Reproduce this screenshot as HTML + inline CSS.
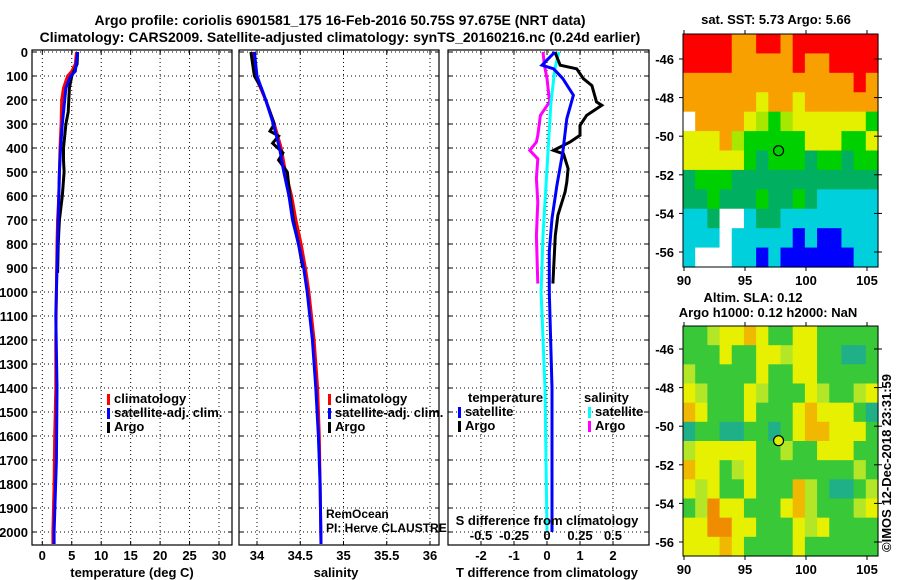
<!DOCTYPE html>
<html><head><meta charset="utf-8"><style>
body{margin:0;background:#fff}
svg{display:block;font-family:"Liberation Sans",sans-serif}
.b{font-weight:bold;font-size:13px}
</style></head><body>
<svg id="c" width="900" height="580" viewBox="0 0 900 580"></svg>
<script>
// ---- data ----
const tDepth = [0,50,80,100,150,200,300,400,500,600,700,800,1000,1200,1400,1600,1800,2000,2050];
const tClim  = [5.8,5.6,5.0,4.3,3.6,3.3,3.2,3.0,2.9,2.8,2.6,2.5,2.4,2.3,2.3,2.1,2.0,1.8,1.8];
const tSatDepth = [0,80,100,150,200,300,400,500,700,900,1100,1400,1700,2000,2050];
const tSat = [6.0,5.6,4.8,4.0,3.8,3.4,3.1,2.9,2.7,2.5,2.3,2.5,2.4,2.0,2.0];
const argoDepth = [0,50,100,150,200,250,300,350,400,450,500,600,700,800,920];
const tArgo = [6.0,5.9,5.0,4.6,4.5,4.4,4.0,3.8,3.6,3.6,3.7,3.4,2.9,2.7,2.6];
const sDepth = [0,100,200,300,400,500,600,700,800,900,1000,1200,1400,1600,1800,2050];
const sClim = [33.95,33.98,34.1,34.2,34.28,34.33,34.4,34.45,34.51,34.56,34.6,34.66,34.7,34.72,34.73,34.74];
const sSat  = [33.97,34.0,34.1,34.19,34.26,34.31,34.37,34.41,34.48,34.54,34.58,34.64,34.68,34.71,34.73,34.74];
const sArgoDepth = [0,100,150,200,250,300,330,350,380,420,450,500,600,700,800,900];
const sArgo = [33.93,33.97,34.05,34.1,34.15,34.2,34.15,34.25,34.18,34.3,34.25,34.35,34.38,34.42,34.48,34.53];
const dTArgoDepth = [0,55,70,111,140,208,222,264,306,347,375,410,424,486,542,583,680,764,965];
const dTArgo = [0.24,0.4,0.9,1.1,1.36,1.5,1.66,1.2,1.0,1.0,0.7,0.2,0.5,0.64,0.6,0.55,0.33,0.25,0.18];
const dTSatDepth = [0,55,70,111,180,278,417,556,694,830,1000,1400,2000];
const dTSat = [0.24,-0.15,0.2,0.48,0.8,0.6,0.48,0.3,0.15,0.07,0.07,0.15,0.15];
const dSSatDepth = [0,70,208,486,764,1000,1400,2000];
const dSSat = [0.09,0.06,0.03,0.0,-0.03,-0.045,-0.015,0.0];
const dSArgoDepth = [0,55,111,208,264,347,375,410,445,527,625,764,965];
const dSArgo = [-0.03,-0.02,0.0,0.02,-0.05,-0.07,-0.08,-0.13,-0.07,-0.08,-0.07,-0.08,-0.07];
const depthTicks = [0,100,200,300,400,500,600,700,800,900,1000,1100,1200,1300,1400,1500,1600,1700,1800,1900,2000];
const tTicks = [0,5,10,15,20,25,30];
const sTicks = [34,34.5,35,35.5,36];
const dTTicks = [-2,-1,0,1,2];
const dSTicks = ["-0.5","-0.25","0","0.25","0.5"];
const latTicks = [-46,-48,-50,-52,-54,-56];
const lonTicks = [90,95,100,105];
const sstGrid = [
"RRRROORRORRRRRRR","RRRROOOOOROORRRR","OOOOOOOOOOOOOORO","OOOOOOYOOYOOOOOO",
"WOOOOYLGLYYYYYYG","YYYOLGGGGGYYYGGY","YYYYYGDGGGDGGDGG","DGGGDDDDDDDDDDDD",
"DDGDDDGDDGDCCCCC","CCDWWCDDCCCCCCCC","CCCWCCCCCBCBBCCC","CWWWCCBCBBBBBBCC"];
const slaGrid = [
"GGLYYOYGGYYGGGGG","GGGYGGYYLYYGGTTG","LGGGGGYGGYYGGGGG","YLGGGYLGGGYLGGLY",
"OYGGGYGGGYOYYYGT","TGGTTGGTGYOOYYYG","LYYYYYGGLGGYYYGG","OYYGLYGGGGGGGGLG",
"YLYGGYGGGOLGTTGL","GLAYYGGGYOLGGGLY","YYAAYYGGGYLYGGGG","YYYOYGGGGYGGGGGG"];
const sstColors = {R:"#ff0000",O:"#f7a000",Y:"#e4f000",L:"#a8e800",G:"#00d000",D:"#00b060",C:"#00cfdc",B:"#0000ff",W:"#ffffff"};
const slaColors = {Y:"#e6f000",L:"#b4e628",G:"#38c838",T:"#20b088",O:"#f0b800",A:"#f08c00"};
const argoLon = 97.75, argoLat = -50.75;

// ---- helpers ----
const svg = document.getElementById('c');
const NS = "http://www.w3.org/2000/svg";
function el(tag, attrs, parent){const e=document.createElementNS(NS,tag);for(const k in attrs)e.setAttribute(k,attrs[k]);(parent||svg).appendChild(e);return e;}
function txt(x,y,s,anchor,cls,parent){const t=el('text',{x:x,y:y,'text-anchor':anchor||'middle',class:cls||'b'},parent);t.textContent=s;return t;}
const Y = d => 52 + 0.24*d;
const TOP=50, BOT=545;
const xT = v => 42.3 + 5.89*v;
const xS = v => 257 + 86.5*(v-34);
const xDT = v => 547 + 33*v;
const xDS = v => 547 + 132*v;

function panel(name,x0,x1,xticksPx,labels,showY){
  const g=el('g',{});
  
  
  depthTicks.forEach(d=>{
    el('line',{x1:x0,x2:x1,y1:Y(d),y2:Y(d),stroke:'#000','stroke-dasharray':'1,3','stroke-width':1},g);
    el('line',{x1:x0,x2:x0+4,y1:Y(d),y2:Y(d),stroke:'#000'},g);
    el('line',{x1:x1-4,x2:x1,y1:Y(d),y2:Y(d),stroke:'#000'},g);
    if(showY){const t=txt(28,Y(d)+5,String(d),'end','b',g);}
  });
  xticksPx.forEach((px,i)=>{
    el('line',{x1:px,x2:px,y1:TOP,y2:BOT,stroke:'#000','stroke-dasharray':'1,3'},g);
    el('line',{x1:px,x2:px,y1:BOT,y2:BOT-4,stroke:'#000'},g);
    el('line',{x1:px,x2:px,y1:TOP,y2:TOP+4,stroke:'#000'},g);
    const t=txt(px,560,labels[i],'middle','b',g);
    
    
  });
  el('rect',{x:x0,y:TOP,width:x1-x0,height:BOT-TOP,fill:'none',stroke:'#000','stroke-width':1.2},g);
  return g;
}
function line(name,xs,ds,fx,color,parent){
  const pts=xs.map((v,i)=>fx(v).toFixed(1)+','+Y(ds[i]).toFixed(1)).join(' ');
  const p=el('polyline',{points:pts,fill:'none',stroke:color,'stroke-width':3,'stroke-linejoin':'miter'},parent);
  
  
}
function legend(x,y,items,parent){
  items.forEach((it,i)=>{
    el('rect',{x:x,y:y+i*14-9,width:3,height:11,fill:it[1]},parent);
    const t=txt(x+7,y+i*14,it[0],'start','b',parent);
    
    
  });
}

// titles
let t1=txt(340,25,"Argo profile: coriolis 6901581_175 16-Feb-2016 50.75S 97.675E (NRT data)");
  t1.setAttribute('style','font-size:14px');
let t2=txt(340,42,"Climatology: CARS2009. Satellite-adjusted climatology: synTS_20160216.nc (0.24d earlier)");
  t2.setAttribute('style','font-size:14px');

// panel 1 temperature
const p1=panel('temperature-panel',32,232,tTicks.map(xT),tTicks.map(String),true);
line('temp-climatology-line',tClim,tDepth,xT,'#ff0000',p1);
line('temp-argo-line',tArgo,argoDepth,xT,'#000',p1);
line('temp-satellite-line',tSat,tSatDepth,xT,'#0000ff',p1);
legend(107,403,[["climatology","#ff0000"],["satellite-adj. clim.","#0000ff"],["Argo","#000"]],p1);
let a1=txt(132,577,"temperature (deg C)");  

// panel 2 salinity
const p2=panel('salinity-panel',239,439,sTicks.map(xS),sTicks.map(String),false);
line('sal-climatology-line',sClim,sDepth,xS,'#ff0000',p2);
line('sal-argo-line',sArgo,sArgoDepth,xS,'#000',p2);
line('sal-satellite-line',sSat,sDepth,xS,'#0000ff',p2);
legend(328,403,[["climatology","#ff0000"],["satellite-adj. clim.","#0000ff"],["Argo","#000"]],p2);
let r1=txt(326,518,"RemOcean",'start',''); r1.setAttribute('style','font-size:12px');  
let r2=txt(326,532,"PI: Herve CLAUSTRE",'start',''); r2.setAttribute('style','font-size:12px');  
let a2=txt(336,577,"salinity");  

// panel 3 differences
const p3=panel('difference-panel',448,649,dTTicks.map(xDT),dTTicks.map(String),false);
line('dS-argo-line',dSArgo,dSArgoDepth,xDS,'#ff00ff',p3);
line('dS-satellite-line',dSSat,dSSatDepth,xDS,'#00ffff',p3);
line('dT-argo-line',dTArgo,dTArgoDepth,xDT,'#000',p3);
line('dT-satellite-line',dTSat,dTSatDepth,xDT,'#0000ff',p3);
let lt=txt(468,402,"temperature",'start','b',p3);  
legend(458,416,[["satellite","#0000ff"],["Argo","#000"]],p3);
let ls=txt(584,402,"salinity",'start','b',p3);  
legend(588,416,[["satellite","#00ffff"],["Argo","#ff00ff"]],p3);
let st=txt(547,525,"S difference from climatology",'middle','b',p3);  
dSTicks.forEach(s=>{const t=txt(xDS(parseFloat(s)),540,s,'middle','b',p3);});
let a3=txt(547,577,"T difference from climatology");  

// maps
function map(name,grid,colors,top,bot,latRef,fillCircle){
  const g=el('g',{});
  
  
  const L=683,R=878;
  const lonX=v=>684+(v-90)*12.2;
  const latY=v=>latRef+(-46-v)*19.3;
  const rows=grid.length, cols=grid[0].length;
  const cw=(R-L)/cols, ch=(bot-top)/rows;
  grid.forEach((row,j)=>{for(let i=0;i<cols;i++){
    el('rect',{x:(L+i*cw).toFixed(2),y:(top+j*ch).toFixed(2),width:(cw+0.6).toFixed(2),height:(ch+0.6).toFixed(2),fill:colors[row[i]]},g);
  }});
  el('rect',{x:L,y:top,width:R-L,height:bot-top,fill:'none',stroke:'#000'},g);
  latTicks.forEach(v=>{el('line',{x1:R-4,x2:R+4,y1:latY(v),y2:latY(v),stroke:'#000'},g);
    el('line',{x1:L-4,x2:L,y1:latY(v),y2:latY(v),stroke:'#000'},g);
    const t=txt(674,latY(v)+5,String(v),'end','b',g);});
  lonTicks.forEach(v=>{el('line',{x1:lonX(v),x2:lonX(v),y1:top-4,y2:top,stroke:'#000'},g);
    el('line',{x1:lonX(v),x2:lonX(v),y1:bot,y2:bot+4,stroke:'#000'},g);
    const t=txt(lonX(v),bot+18,String(v),'middle','b',g);});
  const c=el('circle',{cx:lonX(argoLon),cy:latY(argoLat),r:5,fill:fillCircle,stroke:'#000','stroke-width':1.2},g);
  
  
}
let m1=txt(776,24,"sat. SST: 5.73 Argo: 5.66");  
map('sst-map',sstGrid,sstColors,34,267,59,'#00d000');
let m2=txt(753,302,"Altim. SLA: 0.12");  
let m3=txt(768,317,"Argo h1000: 0.12 h2000: NaN");  
map('sla-map',slaGrid,slaColors,326,556,349,'#d8f000');
let cp=txt(0,0,"©IMOS 12-Dec-2018 23:31:59",'middle','');
cp.setAttribute('transform','translate(891,463) rotate(-90)');
cp.setAttribute('style','font-size:13px');


</script>
</body></html>
